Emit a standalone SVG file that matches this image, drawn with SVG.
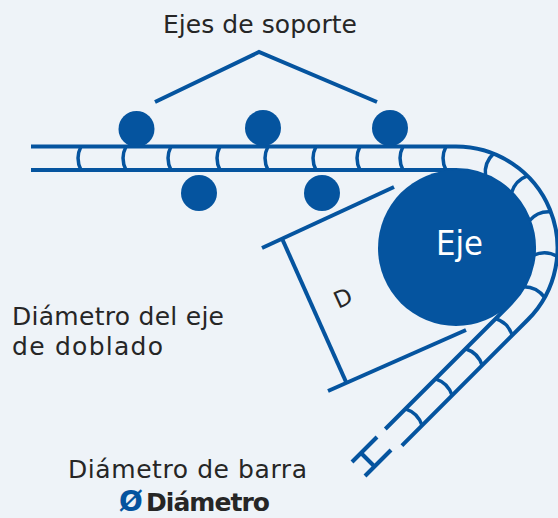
<svg xmlns="http://www.w3.org/2000/svg" xmlns:xlink="http://www.w3.org/1999/xlink" width="558" height="518" viewBox="0 0 558 518">
  <style>
    .bg { fill: #eef3f8; }
    .blue { fill: #05549f; }
    .ln { fill: none; stroke: #05549f; stroke-width: 4; }
    .dv { fill: none; stroke: #05549f; stroke-width: 3.5; }
    .txt { font-family: "DejaVu Sans", "Liberation Sans", sans-serif; fill: #262626; font-size: 25px; }
  </style>
  <defs>
    <path id="dv" class="dv" d="M3,-11.75 Q-3,0 3,11.75"/>
  </defs>
  <rect class="bg" x="0" y="0" width="558" height="518"/>

  <g id="bar">
    <path class="ln" d="M31,146.5 H456 A101.5,101.5 0 0 1 527.77,319.77 L401.9,445.6"/>
    <path class="ln" d="M31,170 H456 A78,78 0 0 1 511.15,303.15 L385.3,429"/>
    <g>
      <use href="#dv" transform="translate(78,158.25)"/>
      <use href="#dv" transform="translate(123,158.25)"/>
      <use href="#dv" transform="translate(168,158.25)"/>
      <use href="#dv" transform="translate(217,158.25)"/>
      <use href="#dv" transform="translate(265,158.25)"/>
      <use href="#dv" transform="translate(313,158.25)"/>
      <use href="#dv" transform="translate(357,158.25)"/>
      <use href="#dv" transform="translate(400,158.25)"/>
      <use href="#dv" transform="translate(443,158.25)"/>
      <use href="#dv" transform="translate(456,248) rotate(20) translate(0,-89.75)"/>
      <use href="#dv" transform="translate(456,248) rotate(43) translate(0,-89.75)"/>
      <use href="#dv" transform="translate(456,248) rotate(67.5) translate(0,-89.75)"/>
      <use href="#dv" transform="translate(456,248) rotate(93) translate(0,-89.75)"/>
      <use href="#dv" transform="translate(456,248) rotate(117.5) translate(0,-89.75)"/>
      <use href="#dv" transform="translate(519.46,311.46) rotate(135) translate(19,0)"/>
      <use href="#dv" transform="translate(519.46,311.46) rotate(135) translate(61.5,0)"/>
      <use href="#dv" transform="translate(519.46,311.46) rotate(135) translate(104,0)"/>
      <use href="#dv" transform="translate(519.46,311.46) rotate(135) translate(146.5,0)"/>
    </g>
    <g id="bar-end">
      <line class="ln" x1="352" y1="462" x2="377" y2="437"/>
      <line class="ln" x1="365" y1="476" x2="391" y2="450"/>
      <line class="ln" x1="361" y1="453" x2="374.5" y2="466.5"/>
    </g>
  </g>

  <g id="roller-1"><circle class="blue" cx="136.5" cy="129" r="18"/></g>
  <g id="roller-2"><circle class="blue" cx="263" cy="128" r="18"/></g>
  <g id="roller-3"><circle class="blue" cx="390" cy="128" r="18"/></g>
  <g id="roller-4"><circle class="blue" cx="199" cy="193" r="18"/></g>
  <g id="roller-5"><circle class="blue" cx="322" cy="193" r="18"/></g>

  <g id="eje">
    <circle class="blue" cx="456" cy="248" r="78"/>
    <text x="459.5" y="255" text-anchor="middle" font-family="DejaVu Sans, Liberation Sans, sans-serif" font-size="34" fill="#ffffff" textLength="47" lengthAdjust="spacingAndGlyphs">Eje</text>
  </g>

  <g id="connectors">
    <polyline class="ln" points="155,102 259,52 377,102"/>
    <line class="ln" x1="262" y1="248" x2="394" y2="187"/>
    <line class="ln" x1="328" y1="391" x2="466" y2="330"/>
    <line class="ln" x1="282" y1="238.5" x2="346.5" y2="383"/>
  </g>

  <g id="labels">
    <text class="txt" x="163" y="33" textLength="194">Ejes de soporte</text>
    <text class="txt" x="343" y="306" text-anchor="middle" style="font-size:23px" transform="rotate(-24.5 343 298)">D</text>
    <text class="txt" x="12" y="325" textLength="212">Diámetro del eje</text>
    <text class="txt" x="12" y="355" textLength="151">de doblado</text>
    <text class="txt" x="68" y="478" textLength="239">Diámetro de barra</text>
    <text class="txt" y="511" style="font-size:25px;font-weight:bold"><tspan x="119" style="fill:#05549f;font-size:28px">Ø</tspan><tspan x="146" textLength="124">Diámetro</tspan></text>
  </g>
</svg>
